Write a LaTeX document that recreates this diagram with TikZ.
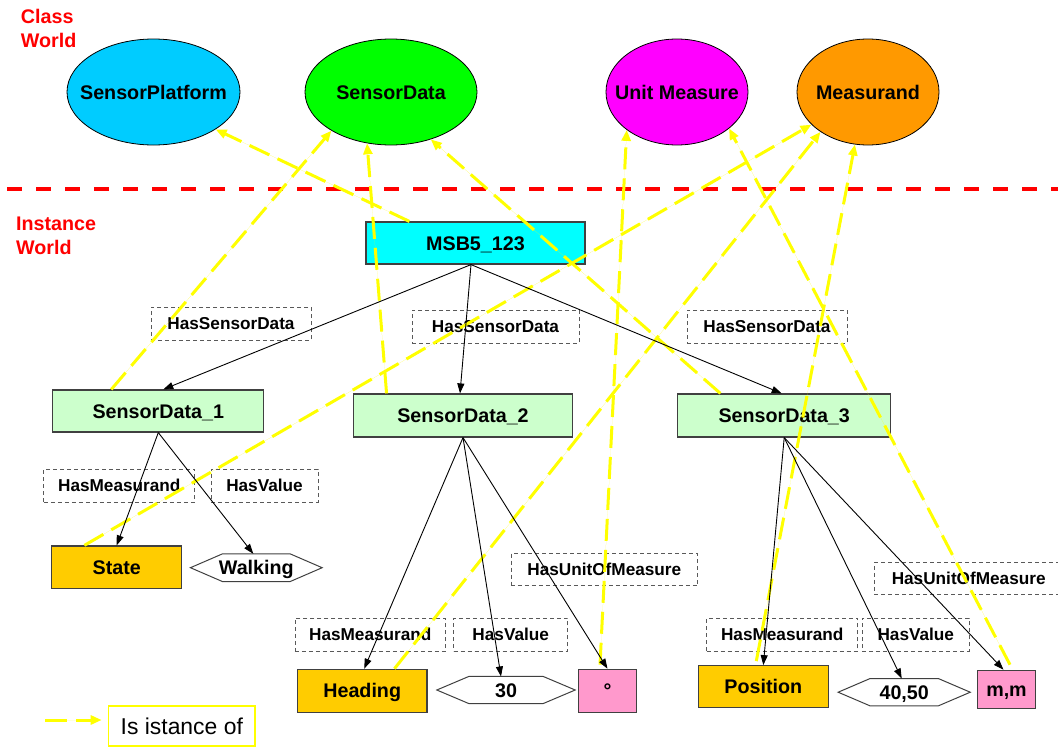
\documentclass[tikz,border=0pt]{standalone}
\usepackage{fontspec}
\setmainfont{Liberation Sans}
\usetikzlibrary{shapes.geometric,arrows.meta,calc}

\definecolor{platformblue}{HTML}{00CCFF}
\definecolor{datagreen}{HTML}{00FF00}
\definecolor{unitmagenta}{HTML}{FF00FF}
\definecolor{measorange}{HTML}{FF9900}
\definecolor{msbcyan}{HTML}{00FFFF}
\definecolor{palegreen}{HTML}{CCFFCC}
\definecolor{gold}{HTML}{FFCC00}
\definecolor{pinkunit}{HTML}{FF99CC}
\definecolor{isayellow}{HTML}{FFFF00}
\definecolor{worldred}{HTML}{FF0000}

\newcommand{\boldlabel}{\fontsize{19.7}{23}\selectfont\bfseries}
\newcommand{\rellabel}{\fontsize{17.2}{20}\selectfont\bfseries}
\newcommand{\worldlabel}{\fontsize{19.7}{24}\selectfont\bfseries\color{worldred}}
\newcommand{\legendlabel}{\fontsize{22.9}{26}\selectfont}

\begin{document}
\begin{tikzpicture}[x=1pt,y=-1pt,
  classnode/.style={ellipse, draw=black, line width=0.8pt, inner sep=0pt,
    minimum height=106pt, font=\boldlabel, text height=14.1pt, text depth=0pt},
  instbox/.style={rectangle, draw=black!75, line width=1.2pt, inner sep=0pt,
    font=\boldlabel, text height=14.1pt, text depth=0pt},
  valnode/.style={rectangle, inner sep=0pt, font=\boldlabel,
    text height=14.1pt, text depth=0pt},
  hexline/.style={draw=black!75, line width=1pt},
  relbox/.style={rectangle, draw=black!65, line width=0.9pt,
    dash pattern=on 4pt off 3pt, inner sep=0pt, minimum height=33pt,
    font=\rellabel, text height=12.3pt, text depth=0pt},
  has/.style={-{Triangle[length=10pt,width=7pt]}, draw=black, line width=0.9pt},
  isa/.style={-{Triangle[length=11pt,width=9pt]}, draw=isayellow,
    fill=isayellow, line width=3pt, dash pattern=on 22pt off 9pt},
  divider/.style={draw=worldred, line width=4pt, dash pattern=on 15pt off 14pt}
]
\useasboundingbox (0,0) rectangle (1058,747);

% world separator and world captions
\coordinate (divL) at (7,188.7);
\coordinate (divR) at (1062,188.7);
\draw[divider] (divL) -- (divR);
\node[anchor=north west, inner sep=0pt, align=left, font=\worldlabel] (classworld) at (20.7,9) {Class\\World};
\node[anchor=north west, inner sep=0pt, align=left, font=\worldlabel] (instworld) at (16,217) {Instance\\World};

% classes
\node[classnode, fill=platformblue, minimum width=173pt] (sp) at (153.5,92) {\makebox[0pt]{SensorPlatform}};
\node[classnode, fill=datagreen, minimum width=172pt] (sdc) at (391,92) {\makebox[0pt]{SensorData}};
\node[classnode, fill=unitmagenta, minimum width=142pt] (um) at (677,92) {\makebox[0pt]{Unit Measure}};
\node[classnode, fill=measorange, minimum width=142pt] (ms) at (868,92) {\makebox[0pt]{Measurand}};

% instances
\node[instbox, fill=msbcyan, minimum width=219pt, minimum height=42pt] (msb) at (475.5,243) {MSB5\_123};
\node[instbox, fill=palegreen, minimum width=211pt, minimum height=42pt] (sd1) at (158.3,411) {SensorData\_1};
\node[instbox, fill=palegreen, minimum width=219.7pt, minimum height=43pt] (sd2) at (463,415.5) {SensorData\_2};
\node[instbox, fill=palegreen, minimum width=213pt, minimum height=43pt] (sd3) at (784.2,415.5) {SensorData\_3};
\node[instbox, fill=gold, minimum width=130pt, minimum height=42.7pt] (state) at (116.7,567.3) {State};
\node[instbox, fill=gold, minimum width=129.7pt, minimum height=43pt] (heading) at (362.2,690.8) {Heading};
\node[instbox, fill=gold, minimum width=130pt, minimum height=42pt] (position) at (763.3,686.7) {Position};
\node[instbox, fill=pinkunit, minimum width=58.4pt, minimum height=43pt] (deg) at (607.5,690.8) {°};
\node[instbox, fill=pinkunit, minimum width=58.4pt, minimum height=38pt] (mm) at (1006.5,689.3) {m,m};

% literal values in hexagons
\node[valnode, minimum width=131.3pt, minimum height=27.3pt] (walk) at (256.3,567.7) {Walking};
\node[valnode, minimum width=138pt, minimum height=26.7pt] (v30) at (506,690) {30};
\node[valnode, minimum width=131.7pt, minimum height=27pt] (v4050) at (904.2,692.2) {40,50};
\foreach \v in {walk,v30,v4050}
  \draw[hexline] (\v.west) -- ([xshift=32pt]\v.north west) -- ([xshift=-32pt]\v.north east)
    -- (\v.east) -- ([xshift=-32pt]\v.south east) -- ([xshift=32pt]\v.south west) -- cycle;

% relation names
\node[relbox, minimum width=160pt] (r1) at (231,323.5) {HasSensorData};
\node[relbox, minimum width=167pt] (r2) at (495.5,326.5) {HasSensorData};
\node[relbox, minimum width=160pt] (r3) at (767,326.5) {HasSensorData};
\node[relbox, minimum width=151pt] (r4) at (119.3,485.5) {HasMeasurand};
\node[relbox, minimum width=107pt] (r5) at (264.5,485.5) {HasValue};
\node[relbox, minimum width=150.7pt] (r6) at (370.3,634.8) {HasMeasurand};
\node[relbox, minimum width=114pt] (r7) at (510.7,634.8) {HasValue};
\node[relbox, minimum width=186.7pt, minimum height=32.4pt] (r8) at (604.3,569.7) {HasUnitOfMeasure};
\node[relbox, minimum width=151pt] (r9) at (782.2,634.8) {HasMeasurand};
\node[relbox, minimum width=107pt] (r10) at (915.8,634.8) {HasValue};
\node[relbox, minimum width=188.7pt, minimum height=32pt] (r11) at (968.7,578.3) {HasUnitOfMeasure};

% instance-of links
\draw[isa] ([xshift=44pt]msb.north west) -- (sp.-31.7);
\draw[isa] ([xshift=-47pt]sd1.north) -- (sdc.-147.2);
\draw[isa] ([xshift=34pt]sd2.north west) -- (sdc.-115.4);
\draw[isa] ([xshift=43.3pt]sd3.north west) -- (sdc.-50.9);
\draw[isa] ([xshift=33.3pt]state.north west) -- (ms.-150.9);
\draw[isa] ([xshift=97.7pt]heading.north west) -- (ms.-140);
\draw[isa] ([xshift=-7pt,yshift=4pt]position.north) -- (ms.-104.4);
\draw[isa] ([xshift=-7.5pt,yshift=4pt]deg.north) -- (um.-143.7);
\draw[isa] ([xshift=3.5pt,yshift=5pt]mm.north) -- (um.-35.5);

% property links
\draw[has] ([xshift=-4.5pt]msb.south) -- ([xshift=5pt]sd1.north);
\draw[has] ([xshift=-4.5pt]msb.south) -- ([xshift=-3pt]sd2.north);
\draw[has] ([xshift=-4.5pt]msb.south) -- ([xshift=-2.5pt]sd3.north);
\draw[has] (sd1.south) -- (state.north);
\draw[has] (sd1.south) -- ([xshift=-3pt]walk.north);
\draw[has] (sd2.south) -- ([xshift=2pt]heading.north);
\draw[has] (sd2.south) -- ([xshift=-5pt]v30.north);
\draw[has] (sd2.south) -- (deg.north);
\draw[has] (sd3.south) -- (position.north);
\draw[has] (sd3.south) -- ([xshift=-2.5pt]v4050.north);
\draw[has] (sd3.south) -- ([xshift=-3pt]mm.north);

% legend
\coordinate (legA) at (45,720);
\coordinate (legB) at (101.7,720);
\draw[isa] (legA) -- (legB);
\node[rectangle, draw=isayellow, line width=1.3pt, minimum width=146.3pt, minimum height=40pt,
  inner sep=0pt, font=\legendlabel, text height=16.4pt, text depth=0pt] (leg) at (181.8,726) {Is istance of};
\end{tikzpicture}
\end{document}
